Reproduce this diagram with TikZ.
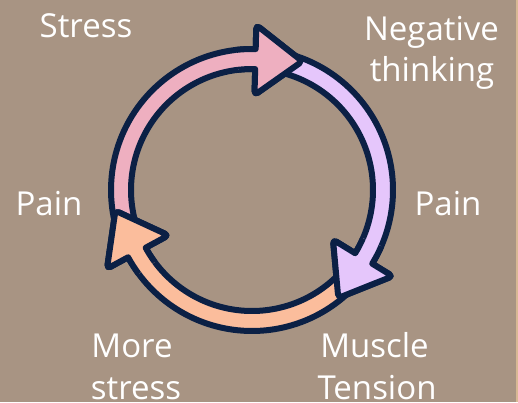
\documentclass[tikz,border=0pt]{standalone}
\usepackage{fontspec}
\setmainfont{Open Sans}
\definecolor{bg}{HTML}{A89483}
\definecolor{navy}{HTML}{0B2045}
\definecolor{pinkf}{HTML}{EEAFC0}
\definecolor{lavf}{HTML}{E5C6FB}
\definecolor{peachf}{HTML}{FBBD9C}
\definecolor{edgestrip}{HTML}{D8B894}
\tikzset{
  band/.style={draw=navy, line width=6pt, line join=round},
  lbl/.style={text=white, inner sep=0pt, anchor=base, font=\fontsize{33pt}{40pt}\selectfont}
}
\begin{document}
\begin{tikzpicture}[x=1pt,y=1pt]
\useasboundingbox (0,0) rectangle (518,402);
\fill[bg] (0,0) rectangle (518,402);
\fill[edgestrip] (516,0) rectangle (518,402);
\begin{scope}[shift={(252,212)}]
% pass 1: full arrows (arc + head)
\foreach \B/\col in {88.5/pinkf, -31.5/lavf, 208.5/peachf}{
  \filldraw[band, fill=\col]
    (\B+112:141pt) arc[start angle=\B+112, end angle=\B, radius=141pt]
    [rounded corners=4pt] -- (\B:165pt) -- (\B-19.87:138.2pt) -- (\B:95pt)
    [sharp corners] -- (\B:121pt)
    arc[start angle=\B, end angle=\B+112, radius=121pt] -- cycle;
}
% pass 2: heads on top of the neighbouring arc
\foreach \B/\col in {88.5/pinkf, -31.5/lavf, 208.5/peachf}{
  \filldraw[band, fill=\col]
    (\B+8:141pt) arc[start angle=\B+8, end angle=\B, radius=141pt]
    [rounded corners=4pt] -- (\B:165pt) -- (\B-19.87:138.2pt) -- (\B:95pt)
    [sharp corners] -- (\B:121pt)
    arc[start angle=\B, end angle=\B+8, radius=121pt];
}
\end{scope}
\node[lbl] (stress) at (86,364) {Stress};
\node[lbl] (neg1) at (431.5,361) {Negative};
\node[lbl] (neg2) at (432,320) {thinking};
\node[lbl] (painl) at (49,187) {Pain};
\node[lbl] (painr) at (448,187) {Pain};
\node[lbl] (more1) at (132,45) {More};
\node[lbl] (more2) at (136,3) {stress};
\node[lbl] (mus1) at (374.5,45) {Muscle};
\node[lbl] (mus2) at (377,3) {Tension};
\end{tikzpicture}
\end{document}
